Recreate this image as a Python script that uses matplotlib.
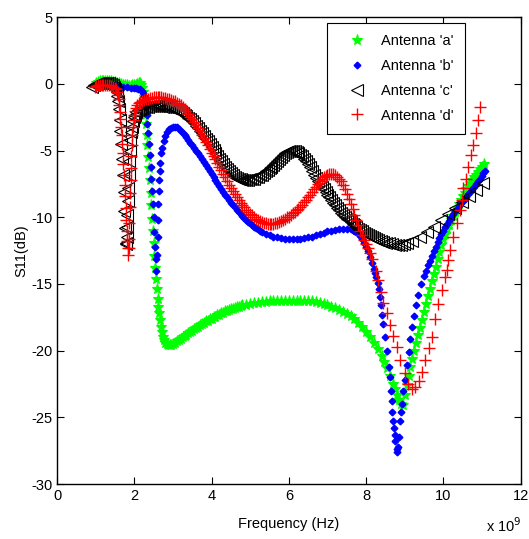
import matplotlib
matplotlib.use("Agg")
import matplotlib.pyplot as plt

# (frequency in GHz, S11 in dB); axis shows "x 10^9" Hz
curve_a = [
    (1.00, 0.1), (1.05, 0.15), (1.10, 0.2), (1.15, 0.2), (1.20, 0.25), (1.25, 0.25), (1.30, 0.25),
    (1.35, 0.2), (1.40, 0.2), (1.45, 0.15), (1.50, 0.15), (1.55, 0.1), (1.60, 0.05), (1.65, 0.0),
    (1.70, -0.05), (1.75, -0.1), (1.80, -0.1), (1.85, -0.15), (1.90, -0.15), (1.95, -0.1),
    (2.00, -0.1), (2.04, -0.05), (2.08, 0.0), (2.11, 0.05), (2.14, 0.05), (2.17, -0.1),
    (2.20, -0.3), (2.22, -0.6), (2.24, -1.0), (2.26, -1.6), (2.28, -2.3), (2.30, -3.0),
    (2.32, -3.8), (2.34, -4.6), (2.36, -5.5), (2.38, -6.3), (2.40, -7.2), (2.42, -8.2),
    (2.44, -9.1), (2.46, -10.1), (2.48, -11.0), (2.50, -11.9), (2.52, -12.9), (2.54, -13.8),
    (2.56, -14.6), (2.58, -15.4), (2.60, -16.1), (2.62, -16.7), (2.64, -17.2), (2.66, -17.7),
    (2.68, -18.2), (2.71, -18.6), (2.74, -19.0), (2.77, -19.2), (2.80, -19.4), (2.84, -19.5),
    (2.88, -19.6), (2.92, -19.6), (2.96, -19.6), (3.00, -19.5), (3.05, -19.4), (3.10, -19.3),
    (3.15, -19.2), (3.20, -19.1), (3.25, -19.0), (3.30, -18.9), (3.35, -18.8), (3.40, -18.7),
    (3.45, -18.6), (3.50, -18.5), (3.55, -18.4), (3.60, -18.3), (3.65, -18.2), (3.70, -18.1),
    (3.75, -18.0), (3.80, -17.9), (3.85, -17.8), (3.90, -17.75), (3.95, -17.65), (4.00, -17.6),
    (4.05, -17.5), (4.10, -17.45), (4.15, -17.35), (4.20, -17.3), (4.25, -17.2), (4.30, -17.15),
    (4.35, -17.05), (4.40, -17.0), (4.45, -16.95), (4.50, -16.9), (4.55, -16.85), (4.60, -16.8),
    (4.65, -16.75), (4.70, -16.7), (4.75, -16.65), (4.80, -16.6), (4.90, -16.55), (5.00, -16.5),
    (5.10, -16.45), (5.20, -16.4), (5.30, -16.35), (5.40, -16.35), (5.50, -16.3), (5.60, -16.3),
    (5.70, -16.3), (5.80, -16.3), (5.90, -16.3), (6.00, -16.3), (6.10, -16.25), (6.20, -16.25),
    (6.30, -16.25), (6.40, -16.25), (6.50, -16.25), (6.60, -16.3), (6.70, -16.35), (6.80, -16.4),
    (6.90, -16.5), (7.00, -16.6), (7.10, -16.7), (7.20, -16.8), (7.30, -16.95), (7.40, -17.1),
    (7.50, -17.25), (7.60, -17.4), (7.70, -17.65), (7.80, -17.9), (7.90, -18.25), (8.00, -18.6),
    (8.10, -19.0), (8.20, -19.4), (8.30, -19.9), (8.40, -20.4), (8.47, -20.85), (8.55, -21.3),
    (8.62, -21.9), (8.70, -22.5), (8.75, -22.9), (8.80, -23.3), (8.85, -23.7), (8.90, -24.0),
    (8.95, -24.1), (9.00, -23.3), (9.05, -22.6), (9.10, -21.9), (9.15, -21.25), (9.20, -20.6),
    (9.25, -20.0), (9.30, -19.4), (9.35, -18.85), (9.40, -18.3), (9.45, -17.7), (9.50, -17.1),
    (9.55, -16.5), (9.60, -15.9), (9.65, -15.35), (9.70, -14.8), (9.75, -14.25), (9.80, -13.7),
    (9.85, -13.15), (9.90, -12.6), (9.95, -12.1), (10.00, -11.6), (10.05, -11.25), (10.10, -10.9),
    (10.15, -10.55), (10.20, -10.2), (10.25, -9.9), (10.30, -9.6), (10.35, -9.3), (10.40, -9.0),
    (10.45, -8.7), (10.50, -8.4), (10.55, -8.15), (10.60, -7.9), (10.65, -7.65), (10.70, -7.4),
    (10.75, -7.2), (10.80, -7.0), (10.85, -6.8), (10.90, -6.6), (10.95, -6.4), (11.00, -6.2),
    (11.05, -6.0),
]

curve_b = [
    (1.00, -0.05), (1.10, 0.0), (1.20, 0.0), (1.30, 0.0), (1.40, -0.05), (1.50, -0.1),
    (1.60, -0.15), (1.70, -0.2), (1.80, -0.25), (1.90, -0.3), (2.00, -0.3), (2.05, -0.3),
    (2.10, -0.35), (2.15, -0.4), (2.20, -0.5), (2.23, -0.7), (2.26, -0.9), (2.28, -1.3),
    (2.30, -1.7), (2.32, -2.3), (2.34, -3.0), (2.36, -3.7), (2.38, -4.5), (2.40, -5.3),
    (2.42, -6.2), (2.44, -7.1), (2.46, -8.0), (2.48, -9.0), (2.50, -10.0), (2.52, -11.1),
    (2.54, -12.2), (2.555, -13.1), (2.57, -14.0), (2.585, -12.8), (2.60, -11.5), (2.61, -10.2),
    (2.62, -9.0), (2.63, -8.0), (2.64, -7.2), (2.655, -6.5), (2.67, -5.9), (2.70, -5.2),
    (2.72, -4.8), (2.76, -4.3), (2.80, -3.9), (2.85, -3.6), (2.90, -3.4), (2.95, -3.3),
    (3.00, -3.2), (3.05, -3.2), (3.10, -3.25), (3.15, -3.35), (3.20, -3.5), (3.25, -3.65),
    (3.30, -3.8), (3.35, -4.0), (3.40, -4.2), (3.45, -4.4), (3.50, -4.6), (3.55, -4.8),
    (3.60, -5.0), (3.65, -5.2), (3.70, -5.4), (3.75, -5.6), (3.80, -5.85), (3.85, -6.1),
    (3.90, -6.3), (3.95, -6.5), (4.00, -6.75), (4.05, -7.0), (4.10, -7.2), (4.15, -7.4),
    (4.20, -7.65), (4.25, -7.9), (4.30, -8.1), (4.35, -8.3), (4.40, -8.5), (4.45, -8.7),
    (4.50, -8.9), (4.55, -9.1), (4.60, -9.25), (4.65, -9.45), (4.70, -9.6), (4.75, -9.75),
    (4.80, -9.9), (4.85, -10.05), (4.90, -10.2), (4.95, -10.35), (5.00, -10.45), (5.05, -10.6),
    (5.10, -10.7), (5.15, -10.8), (5.20, -10.9), (5.25, -11.0), (5.30, -11.1), (5.40, -11.25),
    (5.50, -11.35), (5.60, -11.45), (5.70, -11.5), (5.80, -11.55), (5.90, -11.6), (6.00, -11.65),
    (6.10, -11.65), (6.20, -11.65), (6.30, -11.6), (6.40, -11.55), (6.50, -11.5), (6.60, -11.45),
    (6.70, -11.35), (6.80, -11.25), (6.90, -11.15), (7.00, -11.05), (7.10, -11.0), (7.20, -10.95),
    (7.30, -10.9), (7.40, -10.9), (7.50, -10.9), (7.60, -10.9), (7.65, -10.95), (7.70, -11.0),
    (7.75, -11.1), (7.80, -11.2), (7.85, -11.4), (7.90, -11.6), (7.95, -11.9), (8.00, -12.2),
    (8.05, -12.55), (8.10, -12.95), (8.15, -13.4), (8.20, -13.9), (8.24, -14.2), (8.27, -14.5),
    (8.30, -14.9), (8.33, -15.4), (8.36, -16.0), (8.39, -16.6), (8.42, -17.3), (8.45, -18.0),
    (8.50, -19.0), (8.55, -20.0), (8.60, -21.2), (8.62, -22.0), (8.64, -23.0), (8.66, -23.8),
    (8.68, -24.6), (8.70, -25.3), (8.72, -25.8), (8.74, -26.3), (8.76, -26.8), (8.79, -27.4),
    (8.80, -27.6), (8.82, -27.2), (8.85, -26.5), (8.88, -25.3), (8.90, -24.6), (8.92, -24.0),
    (8.96, -23.0), (9.00, -22.2), (9.05, -21.1), (9.10, -20.1), (9.15, -19.1), (9.20, -18.2),
    (9.25, -17.4), (9.30, -16.6), (9.35, -15.8), (9.42, -15.0), (9.50, -14.4), (9.55, -14.0),
    (9.60, -13.6), (9.65, -13.25), (9.70, -12.9), (9.75, -12.55), (9.80, -12.2), (9.85, -11.85),
    (9.90, -11.55), (9.95, -11.25), (10.00, -11.0), (10.05, -10.75), (10.10, -10.5), (10.15, -10.25),
    (10.20, -10.0), (10.25, -9.75), (10.30, -9.55), (10.35, -9.35), (10.40, -9.15), (10.45, -8.95),
    (10.50, -8.8), (10.55, -8.6), (10.60, -8.45), (10.65, -8.25), (10.70, -8.1), (10.75, -7.9),
    (10.80, -7.7), (10.85, -7.5), (10.90, -7.3), (10.95, -7.1), (11.00, -6.9), (11.04, -6.7),
    (11.08, -6.5),
]

curve_c = [
    (0.90, -0.2), (0.95, -0.1), (1.00, 0.0), (1.05, 0.05), (1.10, 0.1), (1.15, 0.1), (1.20, 0.1),
    (1.25, 0.1), (1.30, 0.05), (1.35, 0.05), (1.40, 0.0), (1.44, -0.1), (1.48, -0.2), (1.51, -0.35),
    (1.54, -0.6), (1.56, -0.9), (1.58, -1.3), (1.60, -1.9), (1.62, -2.7), (1.64, -3.5), (1.66, -4.5),
    (1.68, -5.6), (1.70, -6.8), (1.72, -8.1), (1.74, -9.5), (1.76, -10.8), (1.78, -11.9),
    (1.79, -12.0), (1.80, -11.5), (1.81, -10.7), (1.82, -9.8), (1.83, -8.8), (1.84, -7.8),
    (1.85, -6.8), (1.86, -5.8), (1.875, -5.0), (1.89, -4.2), (1.91, -3.6), (1.93, -3.2),
    (1.96, -2.8), (1.98, -2.5), (2.02, -2.3), (2.05, -2.1), (2.10, -1.95), (2.15, -1.85),
    (2.20, -1.8), (2.25, -1.75), (2.30, -1.7), (2.35, -1.7), (2.40, -1.65), (2.45, -1.65),
    (2.50, -1.65), (2.55, -1.65), (2.60, -1.65), (2.65, -1.65), (2.70, -1.65), (2.75, -1.7),
    (2.80, -1.7), (2.85, -1.75), (2.90, -1.75), (2.95, -1.8), (3.00, -1.85), (3.05, -1.9),
    (3.10, -1.95), (3.15, -2.05), (3.20, -2.1), (3.25, -2.2), (3.30, -2.3), (3.35, -2.4),
    (3.40, -2.55), (3.45, -2.65), (3.50, -2.8), (3.55, -2.95), (3.60, -3.15), (3.65, -3.3),
    (3.70, -3.5), (3.75, -3.7), (3.80, -3.9), (3.85, -4.1), (3.90, -4.3), (3.95, -4.5),
    (4.00, -4.75), (4.05, -4.95), (4.10, -5.2), (4.15, -5.4), (4.20, -5.6), (4.25, -5.8),
    (4.30, -6.0), (4.35, -6.2), (4.40, -6.35), (4.45, -6.55), (4.50, -6.7), (4.55, -6.8),
    (4.60, -6.95), (4.65, -7.05), (4.70, -7.1), (4.75, -7.15), (4.80, -7.2), (4.85, -7.2),
    (4.90, -7.2), (4.95, -7.2), (5.00, -7.15), (5.05, -7.15), (5.10, -7.1), (5.15, -7.0),
    (5.20, -6.95), (5.25, -6.85), (5.30, -6.8), (5.35, -6.7), (5.40, -6.55), (5.45, -6.45),
    (5.50, -6.3), (5.55, -6.2), (5.60, -6.05), (5.65, -5.95), (5.70, -5.8), (5.75, -5.65),
    (5.80, -5.5), (5.85, -5.35), (5.90, -5.2), (5.95, -5.1), (6.00, -5.05), (6.05, -5.0),
    (6.10, -5.0), (6.15, -5.05), (6.20, -5.1), (6.25, -5.2), (6.30, -5.3), (6.35, -5.4),
    (6.40, -5.6), (6.45, -5.8), (6.50, -6.0), (6.55, -6.25), (6.60, -6.55), (6.65, -6.8),
    (6.70, -7.05), (6.75, -7.3), (6.80, -7.5), (6.85, -7.7), (6.90, -7.9), (6.95, -8.1),
    (7.00, -8.3), (7.05, -8.5), (7.10, -8.7), (7.15, -8.9), (7.20, -9.1), (7.25, -9.3),
    (7.30, -9.45), (7.35, -9.65), (7.40, -9.8), (7.45, -9.95), (7.50, -10.1), (7.55, -10.2),
    (7.60, -10.35), (7.65, -10.5), (7.70, -10.6), (7.75, -10.75), (7.80, -10.85), (7.85, -10.95),
    (7.90, -11.05), (7.95, -11.15), (8.00, -11.25), (8.05, -11.35), (8.10, -11.4), (8.15, -11.5),
    (8.20, -11.55), (8.25, -11.6), (8.30, -11.7), (8.38, -11.8), (8.45, -11.85), (8.52, -11.9),
    (8.60, -11.95), (8.68, -12.0), (8.75, -12.05), (8.83, -12.05), (8.90, -12.05), (8.98, -12.0),
    (9.05, -11.95), (9.20, -11.8), (9.40, -11.5), (9.58, -11.1), (9.76, -10.7), (9.94, -10.2),
    (10.12, -9.75), (10.30, -9.3), (10.48, -8.85), (10.66, -8.4), (10.84, -7.95), (11.02, -7.4),
]

curve_d = [
    (0.97, -0.2), (1.00, -0.15), (1.05, -0.1), (1.10, -0.05), (1.15, -0.05), (1.20, -0.05),
    (1.25, -0.05), (1.30, -0.05), (1.35, -0.1), (1.40, -0.15), (1.45, -0.2), (1.49, -0.3),
    (1.52, -0.4), (1.55, -0.6), (1.57, -0.8), (1.59, -1.1), (1.61, -1.6), (1.625, -2.1),
    (1.64, -2.6), (1.655, -3.2), (1.67, -3.8), (1.685, -4.5), (1.70, -5.2), (1.715, -6.0),
    (1.73, -6.8), (1.745, -7.6), (1.76, -8.4), (1.775, -9.3), (1.79, -10.2), (1.805, -11.0),
    (1.82, -11.8), (1.83, -12.3), (1.84, -12.8), (1.85, -12.3), (1.86, -11.6), (1.87, -10.4),
    (1.88, -9.2), (1.89, -8.2), (1.90, -7.2), (1.91, -6.3), (1.92, -5.4), (1.935, -4.6),
    (1.95, -3.8), (1.965, -3.2), (1.98, -2.7), (2.00, -2.3), (2.02, -2.0), (2.05, -1.8),
    (2.08, -1.6), (2.11, -1.45), (2.15, -1.35), (2.20, -1.25), (2.25, -1.2), (2.30, -1.15),
    (2.35, -1.1), (2.40, -1.05), (2.45, -1.05), (2.50, -1.0), (2.55, -1.0), (2.60, -1.0),
    (2.65, -1.0), (2.70, -1.0), (2.75, -1.05), (2.80, -1.05), (2.85, -1.1), (2.90, -1.15),
    (2.95, -1.2), (3.00, -1.25), (3.05, -1.3), (3.10, -1.4), (3.15, -1.5), (3.20, -1.6),
    (3.25, -1.75), (3.30, -1.9), (3.35, -2.05), (3.40, -2.25), (3.45, -2.45), (3.50, -2.65),
    (3.55, -2.85), (3.60, -3.1), (3.65, -3.3), (3.70, -3.55), (3.75, -3.8), (3.80, -4.05),
    (3.85, -4.35), (3.90, -4.6), (3.95, -4.85), (4.00, -5.15), (4.05, -5.4), (4.10, -5.65),
    (4.15, -5.95), (4.20, -6.2), (4.25, -6.45), (4.30, -6.75), (4.35, -7.0), (4.40, -7.25),
    (4.45, -7.55), (4.50, -7.8), (4.55, -8.05), (4.60, -8.25), (4.65, -8.5), (4.70, -8.7),
    (4.75, -8.9), (4.80, -9.1), (4.85, -9.25), (4.90, -9.45), (4.95, -9.6), (5.00, -9.75),
    (5.05, -9.85), (5.10, -10.0), (5.15, -10.1), (5.20, -10.2), (5.25, -10.3), (5.30, -10.35),
    (5.35, -10.4), (5.40, -10.45), (5.45, -10.5), (5.50, -10.5), (5.55, -10.5), (5.60, -10.5),
    (5.65, -10.45), (5.70, -10.4), (5.75, -10.35), (5.80, -10.25), (5.85, -10.2), (5.90, -10.1),
    (5.95, -10.0), (6.00, -9.95), (6.05, -9.85), (6.10, -9.7), (6.15, -9.6), (6.20, -9.45),
    (6.25, -9.35), (6.30, -9.2), (6.35, -9.05), (6.40, -8.85), (6.45, -8.7), (6.50, -8.5),
    (6.55, -8.3), (6.60, -8.1), (6.65, -7.9), (6.70, -7.7), (6.75, -7.5), (6.80, -7.3),
    (6.85, -7.15), (6.90, -7.0), (6.95, -6.9), (7.00, -6.8), (7.05, -6.75), (7.10, -6.75),
    (7.15, -6.75), (7.20, -6.85), (7.25, -6.95), (7.30, -7.1), (7.35, -7.3), (7.40, -7.6),
    (7.45, -7.9), (7.50, -8.25), (7.55, -8.6), (7.60, -9.0), (7.65, -9.4), (7.70, -9.8),
    (7.75, -10.2), (7.80, -10.6), (7.85, -11.0), (7.90, -11.35), (7.95, -11.7), (8.00, -12.0),
    (8.05, -12.3), (8.10, -12.7), (8.15, -13.1), (8.25, -14.0), (8.32, -14.7), (8.38, -15.6),
    (8.45, -16.4), (8.53, -17.2), (8.62, -18.1), (8.70, -18.9), (8.79, -19.7), (8.88, -20.7),
    (9.00, -21.7), (9.09, -22.5), (9.18, -22.85), (9.27, -22.7), (9.36, -22.3), (9.44, -21.6),
    (9.53, -20.7), (9.62, -19.8), (9.70, -18.95), (9.79, -17.6), (9.87, -16.5), (9.96, -15.45),
    (10.04, -14.5), (10.09, -13.95), (10.13, -13.2), (10.17, -12.45), (10.26, -11.45),
    (10.35, -10.45), (10.42, -9.45), (10.48, -8.7), (10.52, -7.8), (10.59, -7.1), (10.65, -6.2),
    (10.71, -5.3), (10.78, -4.6), (10.85, -3.7), (10.90, -2.7), (10.95, -1.7),
]

labels = ["Antenna 'a'", "Antenna 'b'", "Antenna 'c'", "Antenna 'd'"]

plt.rcParams["font.family"] = ["Liberation Sans", "DejaVu Sans"]
plt.rcParams["axes.unicode_minus"] = False

fig = plt.figure(figsize=(5.29, 5.39), dpi=100)
ax = fig.add_axes([0.108, 0.102, 0.876, 0.866])

f, s = zip(*curve_a)
ax.plot(f, s, linestyle="none", marker="*", markersize=8, color="#00ff00",
        markeredgewidth=0.8, label=labels[0])
f, s = zip(*curve_b)
ax.plot(f, s, linestyle="none", marker="D", markersize=3.4, color="#0000ff", label=labels[1])
f, s = zip(*curve_c)
ax.plot(f, s, linestyle="none", marker="<", markersize=8, markerfacecolor="none",
        markeredgecolor="black", markeredgewidth=0.8, label=labels[2])
f, s = zip(*curve_d)
ax.plot(f, s, linestyle="none", marker="+", markersize=8.5, color="#ff0000",
        markeredgewidth=1.0, label=labels[3])

ax.set_xlim(0, 12)
ax.set_ylim(-30, 5)
ax.set_xticks(range(0, 13, 2))
ax.set_yticks(range(-30, 6, 5))
ax.tick_params(direction="in", top=True, right=True, labelsize=10.5, length=5)
for sp in ax.spines.values():
    sp.set_linewidth(1.0)

ax.set_xlabel("Frequency (Hz)", fontsize=10.5, labelpad=10)
ax.set_ylabel("S11(dB)", fontsize=10.5, labelpad=2)
fig.text(0.985, 0.008, r"x 10$^9$", ha="right", va="bottom", fontsize=10.5)

leg = ax.legend(loc="upper right", bbox_to_anchor=(0.88, 0.988), fontsize=10.5,
                frameon=True, fancybox=False, edgecolor="black", framealpha=1,
                handletextpad=0.45, borderpad=0.75, labelspacing=0.75,
                handlelength=2.5, borderaxespad=0)
leg.get_frame().set_linewidth(0.8)

fig.savefig("out.png", dpi=100)
